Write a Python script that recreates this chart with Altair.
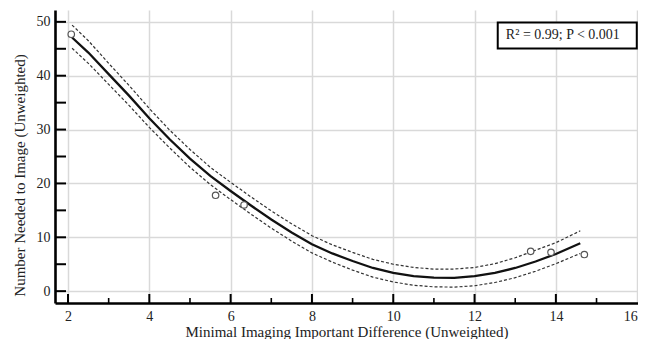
import altair as alt
import pandas as pd

# ---- data ----
PTS_X = [2.08, 5.63, 6.33, 13.38, 13.88, 14.70]
PTS_Y = [47.7, 17.8, 16.0, 7.4, 7.2, 6.8]

CURVE_X = [2.1, 2.5, 3, 3.5, 4, 4.5, 5, 5.5, 6, 6.5, 7, 7.5, 8, 8.5, 9, 9.5,
           10, 10.5, 11, 11.5, 12, 12.5, 13, 13.5, 14, 14.6]
FIT = [47.1, 44.3, 40.3, 36.3, 32.1, 28.2, 24.6, 21.4, 18.6, 15.9, 13.3, 10.9,
       8.7, 7.0, 5.6, 4.3, 3.4, 2.8, 2.5, 2.45, 2.8, 3.4, 4.3, 5.5, 6.9, 8.9]
UPPER = [49.4, 46.5, 42.3, 38.2, 33.9, 29.9, 26.3, 23.0, 20.2, 17.5, 14.9, 12.5,
         10.3, 8.6, 7.2, 5.9, 5.0, 4.4, 4.1, 4.1, 4.4, 5.1, 6.2, 7.6, 9.0, 11.2]
LOWER = [45.1, 42.3, 38.4, 34.5, 30.4, 26.6, 23.0, 19.8, 17.0, 14.3, 11.7, 9.3,
         7.1, 5.4, 3.9, 2.6, 1.7, 1.1, 0.8, 0.75, 1.0, 1.6, 2.5, 3.7, 5.1, 7.0]

X_TICKS = [2, 4, 6, 8, 10, 12, 14, 16]
X_MINOR = [3, 5, 7, 9, 11, 13, 15]
Y_TICKS = [0, 5, 10, 15, 20, 25, 30, 35, 40, 45, 50]

X_DOMAIN = [1.68, 16.02]
Y_DOMAIN = [-2.2, 52.2]

ANNOT_TEXT = ["R\u00b2 = 0.99; P < 0.001"]
ANNOT_BOX_X = [12.57, 15.99]
ANNOT_BOX_Y = [45.05, 49.9]
ANNOT_TEXT_X = [12.77]
ANNOT_TEXT_Y = [47.5]

X_TITLE = "Minimal Imaging Important Difference (Unweighted)"
Y_TITLE = "Number Needed to Image (Unweighted)"

W, H = 583, 293
FONT = "Liberation Serif"

pts = pd.DataFrame({"x": PTS_X, "y": PTS_Y})
fit = pd.DataFrame({"x": CURVE_X, "y": FIT})
band = pd.concat([
    pd.DataFrame({"x": CURVE_X, "y": UPPER, "b": "upper"}),
    pd.DataFrame({"x": CURVE_X, "y": LOWER, "b": "lower"}),
])

xs = alt.Scale(domain=X_DOMAIN, nice=False, zero=False)
ys = alt.Scale(domain=Y_DOMAIN, nice=False, zero=False)

xax = alt.Axis(values=X_TICKS, grid=True, ticks=False, title=X_TITLE,
               labelPadding=6, labelOverlap=False, labelFlush=2,
               titleY=28, titleBaseline="middle")
yax = alt.Axis(values=Y_TICKS, grid=True, ticks=False, title=Y_TITLE,
               labelPadding=5, labelOverlap=False, labelFlush=False,
               titleX=-36, titleY=165,
               titleBaseline="middle", titleAlign="center")

band_layer = alt.Chart(band).mark_line(
    color="#333", strokeWidth=1.2, strokeDash=[3, 2]
).encode(
    x=alt.X("x:Q", scale=xs, axis=xax),
    y=alt.Y("y:Q", scale=ys, axis=yax),
    detail="b:N",
    order="x:Q",
)

fit_layer = alt.Chart(fit).mark_line(color="#111", strokeWidth=2.3).encode(
    x=alt.X("x:Q", scale=xs), y=alt.Y("y:Q", scale=ys)
)

pt_layer = alt.Chart(pts).mark_point(
    shape="circle", size=42, filled=True, fill="white", stroke="#555",
    strokeWidth=1.2, opacity=1
).encode(x=alt.X("x:Q", scale=xs), y=alt.Y("y:Q", scale=ys))

xmaj = alt.Chart(pd.DataFrame({"x": X_TICKS[:-1]})).mark_rule(
    color="black", strokeWidth=2
).encode(x=alt.X("x:Q", scale=xs), y=alt.value(H), y2=alt.value(H - 9))

xmin = alt.Chart(pd.DataFrame({"x": X_MINOR})).mark_rule(
    color="black", strokeWidth=1.6
).encode(x=alt.X("x:Q", scale=xs), y=alt.value(H), y2=alt.value(H - 5))

ymaj = alt.Chart(pd.DataFrame({"y": Y_TICKS})).mark_rule(
    color="black", strokeWidth=2
).encode(y=alt.Y("y:Q", scale=ys), x=alt.value(0), x2=alt.value(11))

box = alt.Chart(pd.DataFrame({
    "x": [ANNOT_BOX_X[0]], "x2": [ANNOT_BOX_X[1]],
    "y": [ANNOT_BOX_Y[0]], "y2": [ANNOT_BOX_Y[1]],
})).mark_rect(fill="white", stroke="black", strokeWidth=2).encode(
    x=alt.X("x:Q", scale=xs), x2="x2:Q",
    y=alt.Y("y:Q", scale=ys), y2="y2:Q",
)

txt = alt.Chart(pd.DataFrame({
    "x": ANNOT_TEXT_X, "y": ANNOT_TEXT_Y, "t": ANNOT_TEXT
})).mark_text(align="left", baseline="middle", font=FONT, fontSize=14,
              color="#222").encode(
    x=alt.X("x:Q", scale=xs), y=alt.Y("y:Q", scale=ys), text="t:N"
)

chart = alt.layer(
    band_layer, fit_layer, pt_layer, xmaj, xmin, ymaj, box, txt
).properties(
    width=W, height=H,
    autosize=alt.AutoSizeParams(type="none"),
    padding={"left": 47, "top": 2, "right": 0, "bottom": 36},
    background="white",
).configure_view(strokeWidth=0).configure_axis(
    labelFont=FONT, labelFontSize=14, labelColor="#222",
    titleFont=FONT, titleFontSize=15, titleFontWeight="normal",
    titleColor="#222",
    gridColor="#d9d9d9", gridWidth=1.5,
    domainColor="black", domainWidth=2.6,
)

chart.save("out.html", embed_options={"renderer": "svg", "actions": False})
